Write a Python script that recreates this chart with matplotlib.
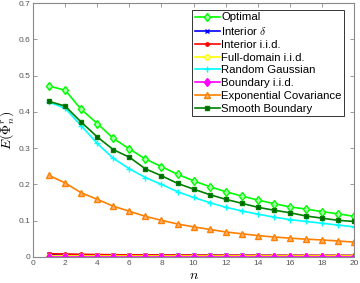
import matplotlib
matplotlib.use("Agg")
import matplotlib.pyplot as plt
import numpy as np

n = list(range(1, 21))
optimal = [0.471, 0.460, 0.407, 0.368, 0.327, 0.298, 0.270, 0.249, 0.228, 0.210,
           0.194, 0.180, 0.168, 0.157, 0.147, 0.138, 0.132, 0.125, 0.119, 0.112]
interior_delta = [0.007, 0.0065, 0.006, 0.0058, 0.0055, 0.0053, 0.005, 0.0048, 0.0047, 0.0045,
                  0.0044, 0.0043, 0.0042, 0.0041, 0.004, 0.004, 0.0039, 0.0039, 0.0038, 0.0038]
interior_iid = [0.009, 0.008, 0.0072, 0.0066, 0.0062, 0.0058, 0.0055, 0.0053, 0.0051, 0.005,
                0.0049, 0.0048, 0.0047, 0.0046, 0.0045, 0.0045, 0.0044, 0.0044, 0.0043, 0.0043]
full_domain_iid = [0.0015] * 20
random_gaussian = [0.427, 0.410, 0.362, 0.313, 0.272, 0.243, 0.219, 0.200, 0.180, 0.164,
                   0.150, 0.137, 0.127, 0.118, 0.110, 0.103, 0.098, 0.093, 0.088, 0.083]
boundary_iid = [0.001] * 20
exp_cov = [0.225, 0.204, 0.177, 0.159, 0.140, 0.126, 0.112, 0.101, 0.091, 0.083,
           0.076, 0.069, 0.064, 0.059, 0.055, 0.052, 0.049, 0.047, 0.044, 0.041]
smooth_boundary = [0.429, 0.416, 0.372, 0.331, 0.296, 0.275, 0.243, 0.224, 0.203, 0.187,
                   0.172, 0.159, 0.148, 0.137, 0.129, 0.122, 0.113, 0.107, 0.101, 0.098]

labels = ["Optimal", "Interior $\\delta$", "Interior i.i.d.", "Full-domain i.i.d.",
          "Random Gaussian", "Boundary i.i.d.", "Exponential Covariance", "Smooth Boundary"]

plt.rcParams['mathtext.fontset'] = 'cm'
plt.rcParams['font.family'] = ['Liberation Sans', 'DejaVu Sans']

fig = plt.figure(figsize=(3.6, 2.83), dpi=100)
ax = fig.add_axes([0.0917, 0.092, 0.892, 0.897])

lw = 1.2
ms = 3.6
ax.plot(n, optimal, color='#00ff00', lw=lw, marker='d', ms=ms+0.8, mfc='#b0ffb0', mec='#00ff00', mew=1.0, label=labels[0])
ax.plot(n, interior_delta, color='#0000ff', lw=lw, marker='x', ms=ms-0.8, mew=1.0, label=labels[1])
ax.plot(n, interior_iid, color='#ff0000', lw=lw, marker='o', ms=ms-1.2, mfc='#ff0000', label=labels[2])
ax.plot(n, full_domain_iid, color='#ffff00', lw=lw, marker='o', ms=ms, mfc='#ffff88', mec='#ffff00', label=labels[3])
ax.plot(n, random_gaussian, color='#00ffff', lw=lw, marker='+', ms=ms+0.5, mew=1.0, label=labels[4])
ax.plot(n, boundary_iid, color='#ff00ff', lw=lw, marker='d', ms=ms+0.8, mfc='#ff00ff', mec='#ff00ff', label=labels[5])
ax.plot(n, exp_cov, color='#ff8000', lw=lw, marker='^', ms=ms+0.6, mfc='#ffb070', mec='#ff8000', label=labels[6])
ax.plot(n, smooth_boundary, color='#008000', lw=lw, marker='s', ms=ms-0.6, mfc='#006000', mec='#008000', label=labels[7])

ax.set_xlim(0, 20)
ax.set_ylim(0, 0.7)
ax.set_xticks(range(0, 21, 2))
ax.set_yticks(np.arange(0, 0.71, 0.1))
ax.set_yticklabels(["0", "0.1", "0.2", "0.3", "0.4", "0.5", "0.6", "0.7"])
gray = '#555555'
for s in ax.spines.values():
    s.set_color('#888888')
    s.set_linewidth(0.8)
ax.tick_params(direction='in', length=3, width=0.6, colors='#888888', labelcolor=gray,
               labelsize=6, top=True, right=True, pad=2)

ax.set_xlabel('$n$', fontsize=10, labelpad=1)
ax.set_ylabel('$E(\\Phi_n^r)$', fontsize=10, labelpad=1)

leg = ax.legend(loc='upper right', bbox_to_anchor=(0.969, 0.972), fontsize=8.2, frameon=True,
                fancybox=False, edgecolor='#333333', framealpha=1, handlelength=2.2,
                handletextpad=0.15, labelspacing=0.24, borderpad=0.2, borderaxespad=0.0)
leg.get_frame().set_linewidth(0.7)

fig.savefig('out.png', dpi=100)
